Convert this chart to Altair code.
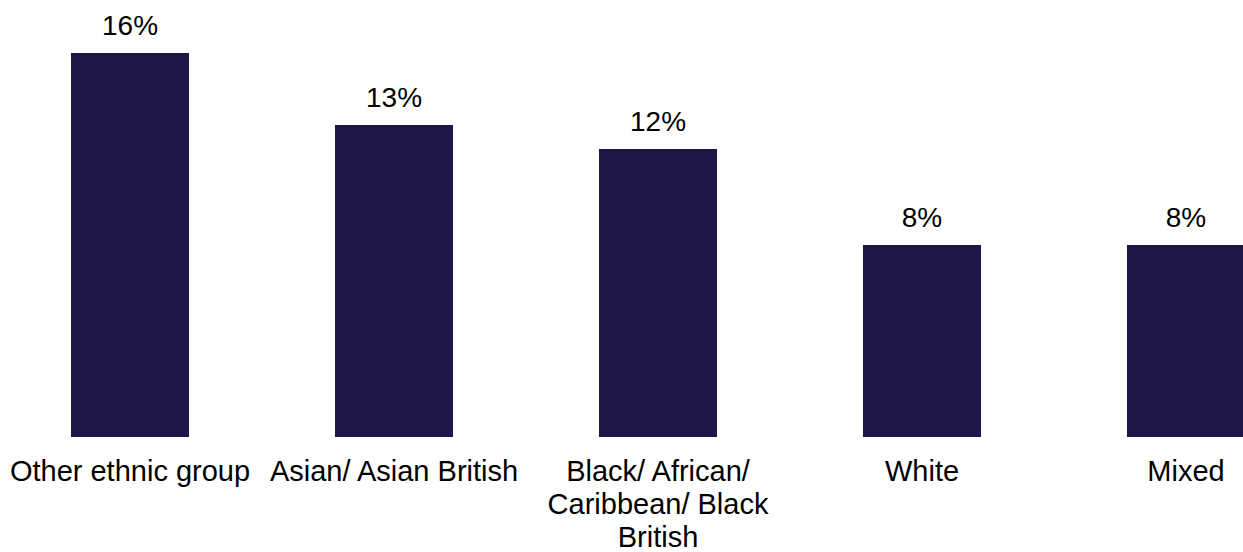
import altair as alt
import pandas as pd

categories = [
    "Other ethnic group",
    "Asian/ Asian British",
    "Black/ African/ Caribbean/ Black British",
    "White",
    "Mixed",
]
values = [16, 13, 12, 8, 8]
labels = ["16%", "13%", "12%", "8%", "8%"]

df = pd.DataFrame({"category": categories, "value": values, "label": labels})

FONT = "Liberation Sans"
BAR = "#1F1547"

x = alt.X(
    "category:N",
    sort=categories,
    scale=alt.Scale(range=[71, 1245], paddingInner=0.553, paddingOuter=0),
    axis=alt.Axis(
        title=None,
        domain=False,
        ticks=False,
        grid=False,
        labelAngle=0,
        labelFont=FONT,
        labelFontSize=29,
        labelColor="#000000",
        labelPadding=20,
        labelLineHeight=33,
        labelLimit=0,
        labelOverlap=False,
        labelExpr="datum.value == 'Black/ African/ Caribbean/ Black British' ? ['Black/ African/', 'Caribbean/ Black', 'British'] : datum.value",
    ),
)
y = alt.Y("value:Q", scale=alt.Scale(domain=[0, 437 / 24], nice=False, zero=True), axis=None)

bars = alt.Chart(df).mark_bar(color=BAR).encode(x=x, y=y)
text = alt.Chart(df).mark_text(
    font=FONT, fontSize=28, color="#000000", baseline="alphabetic", dy=-18
).encode(x=x, y=y, text="label:N")

chart = (
    alt.layer(bars, text)
    .properties(
        width=1243,
        height=437,
        padding={"left": 0, "top": 0, "right": 0, "bottom": 115},
        autosize=alt.AutoSizeParams(type="none"),
        view=alt.ViewBackground(stroke="transparent", strokeWidth=0, strokeOpacity=0),
    )
    .configure_view(stroke="transparent", strokeWidth=0, strokeOpacity=0)
    .configure(background="#FFFFFF")
)

chart.save("out.html", embed_options={"renderer": "svg", "actions": False})
